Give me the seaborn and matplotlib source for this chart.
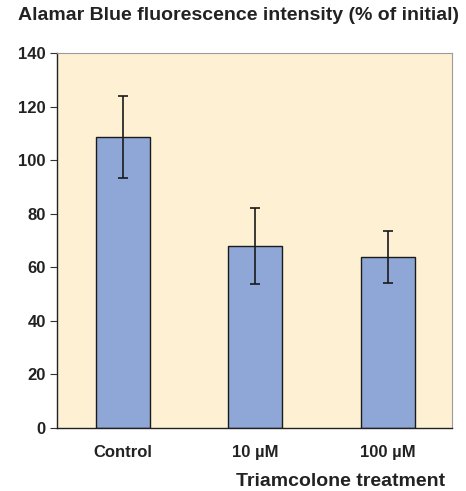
import matplotlib
matplotlib.use("Agg")
import matplotlib.pyplot as plt
import seaborn as sns
import pandas as pd

categories = ["Control", "10 µM", "100 µM"]
means = [108.5, 67.8, 63.9]
errors = [15.3, 14.2, 9.6]
yticks = [0, 20, 40, 60, 80, 100, 120, 140]

sns.set_theme(style="white")
plt.rcParams["font.family"] = ["Liberation Sans", "DejaVu Sans"]

df = pd.DataFrame({"treatment": categories, "value": means})

fig = plt.figure(figsize=(4.66, 4.91), dpi=100)
ax = fig.add_axes([57/466, 63/491, 395/466, 375/491])
ax.set_facecolor("#FEF0D3")

sns.barplot(data=df, x="treatment", y="value", color="#8FA7D6", width=0.405,
            saturation=1, edgecolor="#1a1a1a", linewidth=1.0, errorbar=None, ax=ax)
ax.errorbar(range(len(categories)), means, yerr=errors, fmt="none",
            ecolor="#1a1a1a", elinewidth=1.2, capsize=3.4, capthick=1.2)

ax.set_xlim(-0.497, 2.485)
ax.set_ylim(0, 140)
ax.set_yticks(yticks)
ax.set_yticklabels([str(t) for t in yticks], fontsize=12, fontweight="bold", color="#222222")
ax.tick_params(axis="y", length=5, width=0.8, color="#333333", left=True, pad=3)
ax.tick_params(axis="x", length=0, pad=12)
for lab in ax.get_xticklabels():
    lab.set_fontsize(12)
    lab.set_fontweight("bold")
    lab.set_color("#222222")

for s in ["left", "bottom"]:
    ax.spines[s].set_color("#222222")
    ax.spines[s].set_linewidth(1.0)
for s in ["top", "right"]:
    ax.spines[s].set_color("#9a9a9a")
    ax.spines[s].set_linewidth(0.8)

ax.set_ylabel("")
ax.set_xlabel("Triamcolone treatment", fontsize=14, fontweight="bold", color="#222222")
ax.xaxis.set_label_coords((445 - 57) / 395, -0.12)
ax.xaxis.label.set_horizontalalignment("right")

fig.text(18/466, 1 - 15/491, "Alamar Blue fluorescence intensity (% of initial)",
         fontsize=14, fontweight="bold", color="#222222", va="center", ha="left")

fig.savefig("out.png", dpi=100, facecolor="white")
